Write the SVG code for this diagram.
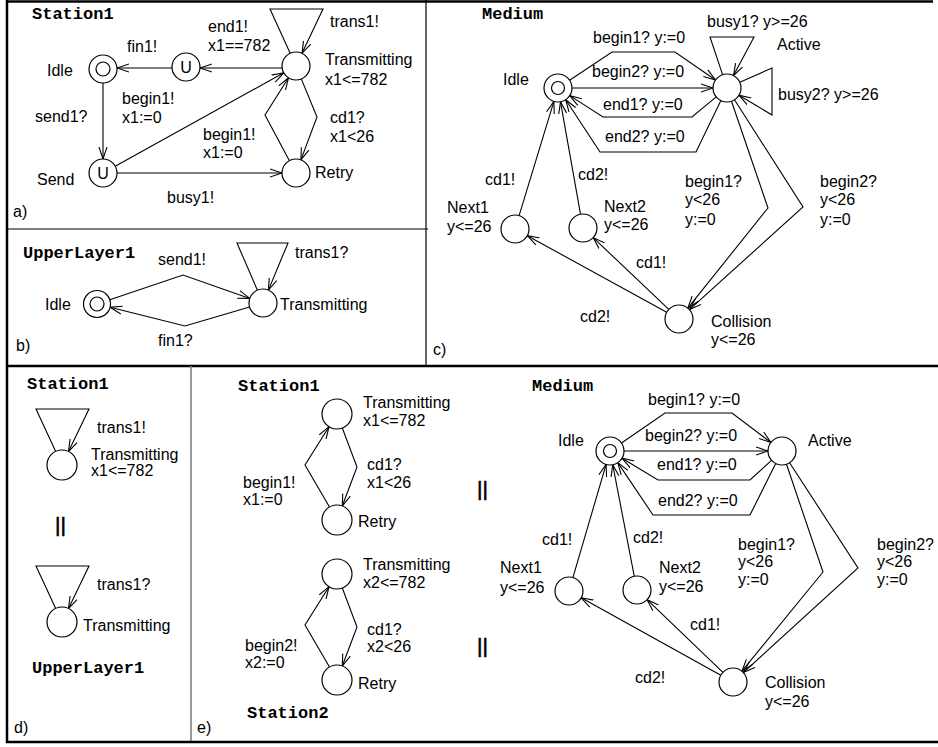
<svg xmlns="http://www.w3.org/2000/svg" width="938" height="747" viewBox="0 0 938 747">
<style>
.n{fill:#fff;stroke:#000;stroke-width:1.2}
.e{fill:none;stroke:#000;stroke-width:1.1;marker-end:url(#ah)}
.f{stroke:#000;fill:none}
.l{font-family:"Liberation Sans",Arial,sans-serif;font-size:16px;fill:#000}
.t{font-family:"Liberation Mono","Courier New",monospace;font-weight:bold;font-size:17px;fill:#000}
.b{font-family:"Liberation Sans",Arial,sans-serif;font-size:21px;fill:#000;stroke:#000;stroke-width:0.6}
</style>
<defs>
<marker id="ah" viewBox="0 0 12 10" refX="12" refY="5" markerWidth="12" markerHeight="10" markerUnits="userSpaceOnUse" orient="auto">
<path d="M0,1 L12,5 L0,9" fill="none" stroke="#000" stroke-width="1.1"/>
</marker>
</defs>
<rect width="938" height="747" fill="#fff"/>
<g id="frame">
<line class="f" x1="7" y1="0" x2="7" y2="743" stroke-width="2.5"/>
<line class="f" x1="6" y1="1.5" x2="933" y2="1.5" stroke-width="2.5"/>
<line class="f" x1="7" y1="229" x2="428" y2="229" stroke-width="1.2"/>
<line class="f" x1="426" y1="0" x2="426" y2="366" stroke-width="1.2"/>
<line class="f" x1="6" y1="366" x2="938" y2="366" stroke-width="2.5"/>
<line x1="191" y1="366" x2="191" y2="742" stroke="#808080" stroke-width="1.6"/>
<line class="f" x1="6" y1="742" x2="938" y2="742" stroke-width="2.5"/>
<text class="l" x="13" y="217">a)</text>
<text class="l" x="16" y="351">b)</text>
<text class="l" x="433" y="355">c)</text>
<text class="l" x="14" y="733">d)</text>
<text class="l" x="197" y="733">e)</text>
<text class="t" x="32" y="19">Station1</text>
<text class="t" x="23" y="258">UpperLayer1</text>
<text class="t" x="482" y="19">Medium</text>
<text class="t" x="27" y="389">Station1</text>
<text class="t" x="32" y="673">UpperLayer1</text>
<text class="t" x="238" y="391">Station1</text>
<text class="t" x="247" y="718">Station2</text>
<text class="t" x="532" y="391">Medium</text>
<text class="b" x="55" y="532">||</text>
<text class="b" x="477" y="496">||</text>
<text class="b" x="477" y="653">||</text>
</g>
<g id="connectors">
<!-- panel a -->
<path class="e" d="M282,68 L200,68"/>
<path class="e" d="M172,68 L117,68"/>
<path class="e" d="M103,83 L103,159"/>
<path class="e" d="M115.2,166.2 L283.8,72.8"/>
<path class="e" d="M117,173 L282,173"/>
<path class="e" d="M301.3,78.9 L317,117 L300.9,159.9"/>
<path class="e" d="M289.4,160.7 L265,115 L288.5,77.8"/>
<path class="e" d="M290.2,53.3 L270,9 L323,9 L302,53.3"/>
<text class="l" x="127" y="52">fin1!</text>
<text class="l" x="208" y="32">end1!</text>
<text class="l" x="208" y="51">x1==782</text>
<text class="l" x="330" y="27">trans1!</text>
<text class="l" x="35" y="122">send1?</text>
<text class="l" x="122" y="104">begin1!</text>
<text class="l" x="122" y="123">x1:=0</text>
<text class="l" x="203" y="140">begin1!</text>
<text class="l" x="203" y="158">x1:=0</text>
<text class="l" x="330" y="123">cd1?</text>
<text class="l" x="330" y="142">x1&lt;26</text>
<text class="l" x="167" y="203">busy1!</text>
<!-- panel b -->
<path class="e" d="M109.8,299.7 L183,275 L249.8,298.4"/>
<path class="e" d="M249.6,307 L185,326 L110.1,307.3"/>
<path class="e" d="M257.4,290.2 L237,243 L288,243 L268.4,290.1"/>
<text class="l" x="158" y="265">send1!</text>
<text class="l" x="158" y="346">fin1?</text>
<text class="l" x="295" y="258">trans1?</text>
<!-- panel c -->
<path class="e" d="M722.6,74.7 L710,37 L754,37 L733.5,75.6"/>
<path class="e" d="M739.8,82.3 L772,68 L772,115 L739,95.2"/>
<path class="e" d="M569.6,80.2 L612,52 L675,52 L715.5,80"/>
<path class="e" d="M572,88 L713,88"/>
<path class="e" d="M716.2,96.9 L692,117 L603,117 L569.8,95.6"/>
<path class="e" d="M720.9,100.6 L696,152 L600,152 L565.7,99.7"/>
<path class="e" d="M519.1,215.6 L553.9,101.4"/>
<path class="e" d="M580.5,214.2 L560.5,101.8"/>
<path class="e" d="M731.5,101.2 L768,208 L687.8,308.1"/>
<path class="e" d="M734.5,99.8 L803,207 L689.4,309.6"/>
<path class="e" d="M668.8,309.4 L593.2,237.6"/>
<path class="e" d="M666.7,312.3 L527.3,235.7"/>
<text class="l" x="707" y="27">busy1? y&gt;=26</text>
<text class="l" x="778" y="100">busy2? y&gt;=26</text>
<text class="l" x="593" y="43">begin1? y:=0</text>
<text class="l" x="592" y="77">begin2? y:=0</text>
<text class="l" x="603" y="110">end1? y:=0</text>
<text class="l" x="605" y="142">end2? y:=0</text>
<text class="l" x="485" y="185">cd1!</text>
<text class="l" x="578" y="180">cd2!</text>
<text class="l" x="685" y="187">begin1?</text>
<text class="l" x="685" y="205">y&lt;26</text>
<text class="l" x="685" y="225">y:=0</text>
<text class="l" x="820" y="187">begin2?</text>
<text class="l" x="820" y="205">y&lt;26</text>
<text class="l" x="820" y="225">y:=0</text>
<text class="l" x="636" y="268">cd1!</text>
<text class="l" x="580" y="322">cd2!</text>
<!-- panel d -->
<path class="e" d="M55.7,451.4 L36,409 L89,409 L68.5,451.5"/>
<path class="e" d="M55.7,608.4 L36,566 L89,566 L68.5,608.5"/>
<text class="l" x="97" y="433">trans1!</text>
<text class="l" x="97" y="590">trans1?</text>
<!-- panel e stations -->
<path class="e" d="M329.5,507 L305,465 L329,426.7"/>
<path class="e" d="M342.3,428 L357,467 L342.3,506"/>
<path class="e" d="M329.5,667 L305,625 L329,586.7"/>
<path class="e" d="M342.3,588 L357,627 L342.3,666"/>
<text class="l" x="243" y="488">begin1!</text>
<text class="l" x="243" y="505">x1:=0</text>
<text class="l" x="367" y="470">cd1?</text>
<text class="l" x="367" y="488">x1&lt;26</text>
<text class="l" x="245" y="651">begin2!</text>
<text class="l" x="245" y="668">x2:=0</text>
<text class="l" x="367" y="635">cd1?</text>
<text class="l" x="367" y="652">x2&lt;26</text>
<!-- panel e medium -->
<path class="e" d="M621.5,443 L665,413 L732,413 L770.9,442.5"/>
<path class="e" d="M624,451 L768,451"/>
<path class="e" d="M771.6,460.4 L750,480 L658,480 L622,458.2"/>
<path class="e" d="M775.7,463.5 L750,515 L653,515 L617.8,462.6"/>
<path class="e" d="M572.9,577.6 L606.1,464.4"/>
<path class="e" d="M634.3,576.3 L612.7,464.7"/>
<path class="e" d="M786.5,464.3 L823,572 L741.9,671.2"/>
<path class="e" d="M789.6,462.7 L858,568 L743.3,672.6"/>
<path class="e" d="M722.9,672.3 L647.1,599.7"/>
<path class="e" d="M720.8,675.2 L581.2,597.8"/>
<text class="l" x="648" y="405">begin1? y:=0</text>
<text class="l" x="645" y="441">begin2? y:=0</text>
<text class="l" x="657" y="470">end1? y:=0</text>
<text class="l" x="658" y="506">end2? y:=0</text>
<text class="l" x="542" y="545">cd1!</text>
<text class="l" x="633" y="543">cd2!</text>
<text class="l" x="738" y="550">begin1?</text>
<text class="l" x="738" y="567">y&lt;26</text>
<text class="l" x="738" y="585">y:=0</text>
<text class="l" x="877" y="550">begin2?</text>
<text class="l" x="877" y="567">y&lt;26</text>
<text class="l" x="877" y="585">y:=0</text>
<text class="l" x="690" y="630">cd1!</text>
<text class="l" x="635" y="683">cd2!</text>
</g>
<!-- panel a nodes -->
<g id="a-idle"><circle class="n" cx="103" cy="69" r="14"/><circle class="n" cx="103" cy="69" r="7"/><text class="l" x="47" y="76">Idle</text></g>
<g id="a-u"><circle class="n" cx="186" cy="67" r="14"/><text class="l" x="186" y="73" text-anchor="middle">U</text></g>
<g id="a-transmitting"><circle class="n" cx="296" cy="66" r="14"/><text class="l" x="325" y="65">Transmitting</text><text class="l" x="325" y="85">x1&lt;=782</text></g>
<g id="a-send"><circle class="n" cx="103" cy="173" r="14"/><text class="l" x="103" y="179" text-anchor="middle">U</text><text class="l" x="37" y="185">Send</text></g>
<g id="a-retry"><circle class="n" cx="296" cy="173" r="14"/><text class="l" x="315" y="178">Retry</text></g>
<!-- panel b nodes -->
<g id="b-idle"><circle class="n" cx="97" cy="304" r="13.5"/><circle class="n" cx="97" cy="304" r="7"/><text class="l" x="45" y="310">Idle</text></g>
<g id="b-transmitting"><circle class="n" cx="263" cy="303" r="14"/><text class="l" x="280" y="310">Transmitting</text></g>
<!-- panel c nodes -->
<g id="c-idle"><circle class="n" cx="558" cy="88" r="14"/><circle class="n" cx="558" cy="88" r="6.5"/><text class="l" x="503" y="85">Idle</text></g>
<g id="c-active"><circle class="n" cx="727" cy="88" r="14"/><text class="l" x="777" y="50">Active</text></g>
<g id="c-next1"><circle class="n" cx="515" cy="229" r="14"/><text class="l" x="447" y="213">Next1</text><text class="l" x="447" y="232">y&lt;=26</text></g>
<g id="c-next2"><circle class="n" cx="583" cy="228" r="14"/><text class="l" x="604" y="212">Next2</text><text class="l" x="604" y="230">y&lt;=26</text></g>
<g id="c-collision"><circle class="n" cx="679" cy="319" r="14"/><text class="l" x="711" y="327">Collision</text><text class="l" x="711" y="345">y&lt;=26</text></g>
<!-- panel d nodes -->
<g id="d-transmitting1"><circle class="n" cx="62" cy="465" r="15"/><text class="l" x="91" y="460">Transmitting</text><text class="l" x="91" y="476">x1&lt;=782</text></g>
<g id="d-transmitting2"><circle class="n" cx="62" cy="622" r="15"/><text class="l" x="83" y="631">Transmitting</text></g>
<!-- panel e station nodes -->
<g id="e-s1-transmitting"><circle class="n" cx="337" cy="414" r="15"/><text class="l" x="363" y="408">Transmitting</text><text class="l" x="363" y="426">x1&lt;=782</text></g>
<g id="e-s1-retry"><circle class="n" cx="337" cy="520" r="15"/><text class="l" x="358" y="527">Retry</text></g>
<g id="e-s2-transmitting"><circle class="n" cx="337" cy="574" r="15"/><text class="l" x="363" y="570">Transmitting</text><text class="l" x="363" y="588">x2&lt;=782</text></g>
<g id="e-s2-retry"><circle class="n" cx="337" cy="680" r="15"/><text class="l" x="358" y="689">Retry</text></g>
<!-- panel e medium nodes -->
<g id="e-idle"><circle class="n" cx="610" cy="451" r="14"/><circle class="n" cx="610" cy="451" r="6.5"/><text class="l" x="558" y="446">Idle</text></g>
<g id="e-active"><circle class="n" cx="782" cy="451" r="14"/><text class="l" x="808" y="446">Active</text></g>
<g id="e-next1"><circle class="n" cx="569" cy="591" r="14"/><text class="l" x="500" y="573">Next1</text><text class="l" x="500" y="593">y&lt;=26</text></g>
<g id="e-next2"><circle class="n" cx="637" cy="590" r="14"/><text class="l" x="659" y="573">Next2</text><text class="l" x="659" y="592">y&lt;=26</text></g>
<g id="e-collision"><circle class="n" cx="733" cy="682" r="14"/><text class="l" x="765" y="688">Collision</text><text class="l" x="765" y="707">y&lt;=26</text></g>
</svg>
